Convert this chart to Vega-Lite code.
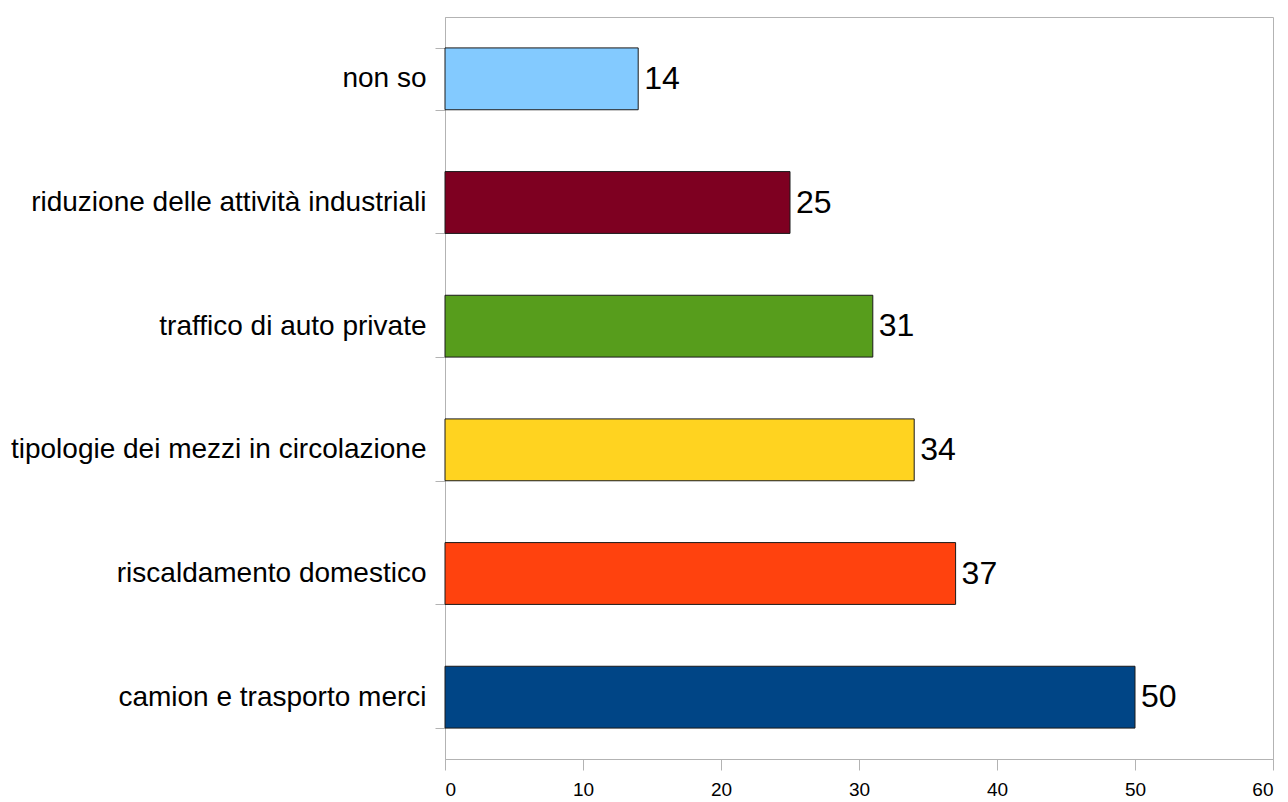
{
  "$schema": "https://vega.github.io/schema/vega-lite/v6.json",
  "autosize": "none",
  "width": 828,
  "height": 742,
  "padding": {"left": 445, "top": 17, "right": 15, "bottom": 43},
  "background": "white",
  "config": {
    "view": {"stroke": "#b3b3b3", "strokeWidth": 1},
    "font": "Liberation Sans"
  },
  "data": {
    "values": [
      {"categoria": "non so", "valore": 14, "colore": "#83CAFF"},
      {"categoria": "riduzione delle attività industriali", "valore": 25, "colore": "#7E0021"},
      {"categoria": "traffico di auto private", "valore": 31, "colore": "#579D1C"},
      {"categoria": "tipologie dei mezzi in circolazione", "valore": 34, "colore": "#FFD320"},
      {"categoria": "riscaldamento domestico", "valore": 37, "colore": "#FF420E"},
      {"categoria": "camion e trasporto merci", "valore": 50, "colore": "#004586"}
    ]
  },
  "encoding": {
    "y": {
      "field": "categoria",
      "type": "nominal",
      "sort": null,
      "scale": {"paddingInner": 0.5, "paddingOuter": 0.25},
      "axis": {
        "title": null,
        "tickBand": "extent",
        "domainColor": "#b3b3b3",
        "tickColor": "#b3b3b3",
        "tickSize": 10,
        "labelFontSize": 28,
        "labelFont": "Liberation Sans",
        "labelColor": "black",
        "labelPadding": 9,
        "labelLimit": 600,
        "grid": false
      }
    },
    "x": {
      "field": "valore",
      "type": "quantitative",
      "scale": {"domain": [0, 60], "nice": false},
      "axis": {
        "title": null,
        "values": [0, 10, 20, 30, 40, 50, 60],
        "grid": false,
        "domainColor": "#b3b3b3",
        "tickColor": "#b3b3b3",
        "tickSize": 11,
        "labelFontSize": 19,
        "labelFont": "Liberation Sans",
        "labelColor": "black",
        "labelPadding": 10
      }
    }
  },
  "layer": [
    {
      "mark": {"type": "bar", "stroke": "#1a1a1a", "strokeWidth": 1},
      "encoding": {
        "color": {"field": "colore", "type": "nominal", "scale": null, "legend": null}
      }
    },
    {
      "mark": {"type": "text", "align": "left", "baseline": "middle", "dx": 6, "fontSize": 32, "font": "Liberation Sans", "color": "black"},
      "encoding": {
        "text": {"field": "valore", "type": "quantitative"}
      }
    }
  ]
}
